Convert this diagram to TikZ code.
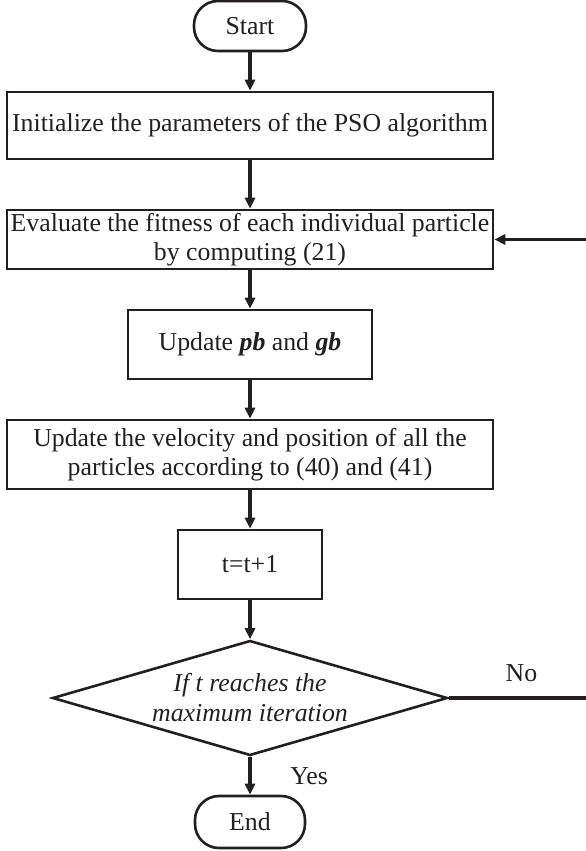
\documentclass[tikz,border=0pt]{standalone}
\usepackage{fontspec}
\setmainfont{Liberation Serif}
\usetikzlibrary{shapes.geometric, arrows.meta}
\definecolor{ink}{HTML}{231F20}

\begin{document}
\begin{tikzpicture}[node distance=55pt, x=1pt, y=1pt, color=ink, line width=1.6pt,
                    every node/.style={align=center, font=\fontsize{12.9pt}{14.5pt}\selectfont},
                    stepbox/.style={rectangle, draw, line width=1.3pt, inner xsep=1pt, inner ysep=0.5pt,
                                    minimum width=243pt, minimum height=34.5pt},
                    termbox/.style={rectangle, rounded corners=12pt, draw, line width=1.3pt,
                                    minimum width=56pt, minimum height=25pt},
                    decision/.style={diamond, draw, line width=1.3pt, aspect=3.43, inner sep=0pt,
                                     minimum width=197.5pt, minimum height=57.5pt, font=\fontsize{12.9pt}{15pt}\selectfont\itshape},
                    >={Triangle[length=5.5pt, width=5pt]}]

\useasboundingbox (0,0) rectangle (292.5,-425.5);

% Main column
\node[termbox] (start) at (125,-13) {Start};
\node[stepbox, minimum height=33.5pt, below of=start, yshift=5.25pt] (init) {Initialize the parameters of the PSO algorithm};
\node[stepbox, minimum height=29.5pt, below of=init, yshift=-2pt] (eval) {Evaluate the fitness of each individual particle\\by computing (21)};
\node[stepbox, minimum width=122pt, below of=eval, yshift=2.5pt] (pbgb) {Update \textbf{\textit{pb}} and \textbf{\textit{gb}}};
\node[stepbox, below of=pbgb] (vel) {Update the velocity and position of all the\\particles according to (40) and (41)};
\node[stepbox, minimum width=72pt, below of=vel] (tinc) {t=t+1};

% Stopping test
\node[decision, below of=tinc, yshift=-11.75pt] (cond) {If t reaches the\\maximum iteration};
\node[termbox, minimum width=55pt, minimum height=26pt, below of=cond, yshift=-7pt] (end) {End};

% Connections
\draw[->] (start) -- (init);
\draw[->] (init) -- (eval);
\draw[->] (eval) -- (pbgb);
\draw[->] (pbgb) -- (vel);
\draw[->] (vel) -- (tinc);
\draw[->] (tinc) -- (cond);
\draw[->] (cond) -- node[right, xshift=16pt] {Yes} (end);

% Loop back (vertical part lies past the right edge)
\coordinate (loopr) at (297,0);
\draw[->] (cond.east) -- node[above, yshift=4pt] {No} (cond.east -| loopr) -- (eval.east -| loopr) -- (eval.east);

\end{tikzpicture}
\end{document}
